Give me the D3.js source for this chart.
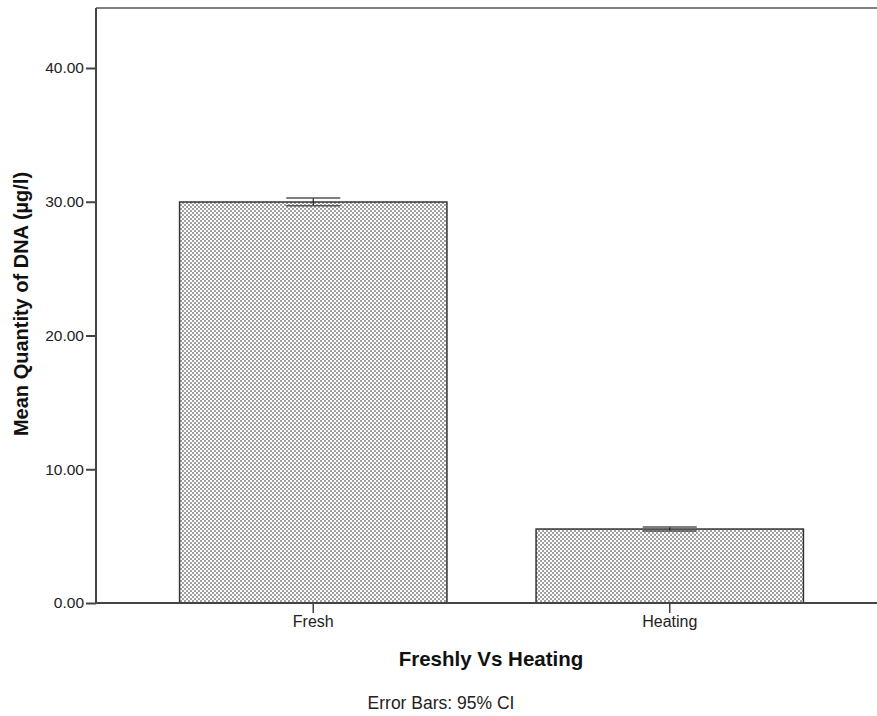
<!DOCTYPE html>
<html>
<head>
<meta charset="utf-8">
<script src="https://cdn.jsdelivr.net/npm/d3@7"></script>
<style>
body { margin: 0; background: #fff; }
text { font-family: "Liberation Sans", Arial, sans-serif; }
</style>
</head>
<body>
<script>
// data
var groups = ["Fresh", "Heating"];
var means = [29.98, 5.53];
var ciLow = [29.70, 5.38];
var ciHigh = [30.28, 5.68];
var yTicks = [0, 10, 20, 30, 40];

var W = 877, H = 716;
var mLeft = 96, mTop = 8, mBottom = 603;

var svg = d3.select("body").append("svg")
	.attr("width", W)
	.attr("height", H);

// dotted fill like the original
var pat = svg.append("defs").append("pattern")
	.attr("id", "dots")
	.attr("width", 4).attr("height", 4)
	.attr("patternUnits", "userSpaceOnUse");
pat.append("rect").attr("width", 4).attr("height", 4).attr("fill", "#fff");
pat.append("rect").attr("x", 0).attr("y", 0).attr("width", 2).attr("height", 2).attr("fill", "#a0a0a0");
pat.append("rect").attr("x", 2).attr("y", 2).attr("width", 2).attr("height", 2).attr("fill", "#a0a0a0");

var y = d3.scaleLinear().domain([0, 40]).range([mBottom, 68]);
var x = d3.scaleBand().domain(groups)
	.range([135, 848])
	.paddingInner(0.25)
	.paddingOuter(0.125);

// top frame line
svg.append("line").attr("x1", mLeft).attr("x2", W).attr("y1", mTop).attr("y2", mTop)
	.attr("stroke", "#808080").attr("stroke-width", 2);

// bars
svg.selectAll("rect.bar")
	.data(groups).enter()
	.append("rect")
	.attr("class", "bar")
	.attr("x", function(d) { return x(d); })
	.attr("width", x.bandwidth())
	.attr("y", function(d, i) { return y(means[i]); })
	.attr("height", function(d, i) { return mBottom - y(means[i]); })
	.attr("fill", "url(#dots)")
	.attr("stroke", "#333")
	.attr("stroke-width", 1.5);

// error bars
var capW = 27;
var eb = svg.selectAll("g.err").data(groups).enter().append("g").attr("class", "err");
eb.append("line")
	.attr("x1", function(d) { return x(d) + x.bandwidth() / 2; })
	.attr("x2", function(d) { return x(d) + x.bandwidth() / 2; })
	.attr("y1", function(d, i) { return y(ciLow[i]); })
	.attr("y2", function(d, i) { return y(ciHigh[i]); })
	.attr("stroke", "#222").attr("stroke-width", 1.2);
eb.append("line")
	.attr("x1", function(d) { return x(d) + x.bandwidth() / 2 - capW; })
	.attr("x2", function(d) { return x(d) + x.bandwidth() / 2 + capW; })
	.attr("y1", function(d, i) { return y(ciHigh[i]); })
	.attr("y2", function(d, i) { return y(ciHigh[i]); })
	.attr("stroke", "#555").attr("stroke-width", 1.5);
eb.append("line")
	.attr("x1", function(d) { return x(d) + x.bandwidth() / 2 - capW; })
	.attr("x2", function(d) { return x(d) + x.bandwidth() / 2 + capW; })
	.attr("y1", function(d, i) { return y(ciLow[i]); })
	.attr("y2", function(d, i) { return y(ciLow[i]); })
	.attr("stroke", "#555").attr("stroke-width", 1.5);

// y axis
var yAxis = svg.append("g")
	.attr("transform", "translate(" + mLeft + ",0)")
	.call(d3.axisLeft(y).tickValues(yTicks).tickFormat(d3.format(".2f")).tickSize(10).tickSizeOuter(0));
yAxis.select(".domain").remove();
yAxis.append("line").attr("x1", 0).attr("x2", 0).attr("y1", mTop).attr("y2", mBottom)
	.attr("stroke", "#444").attr("stroke-width", 2);
yAxis.selectAll(".tick line").attr("stroke", "#444").attr("stroke-width", 2);
yAxis.selectAll(".tick text")
	.attr("x", -12)
	.style("font-family", "'Liberation Sans', Arial, sans-serif")
	.style("font-size", "15.5px").attr("fill", "#222");

// x axis
var xAxis = svg.append("g")
	.attr("transform", "translate(0," + mBottom + ")")
	.call(d3.axisBottom(x).tickSize(10).tickSizeOuter(0));
xAxis.select(".domain").remove();
xAxis.append("line").attr("x1", mLeft).attr("x2", W).attr("y1", 0).attr("y2", 0)
	.attr("stroke", "#444").attr("stroke-width", 2);
xAxis.selectAll(".tick line").attr("stroke", "#444").attr("stroke-width", 1.5);
xAxis.selectAll(".tick text")
	.attr("y", 13)
	.style("font-family", "'Liberation Sans', Arial, sans-serif")
	.style("font-size", "16px").attr("fill", "#222");

// titles
svg.append("text")
	.attr("transform", "translate(28,304) rotate(-90)")
	.attr("text-anchor", "middle")
	.style("font-size", "20px").style("font-weight", "bold")
	.attr("fill", "#111")
	.text("Mean Quantity of DNA (µg/l)");

svg.append("text")
	.attr("x", 491).attr("y", 666)
	.attr("text-anchor", "middle")
	.style("font-size", "20.5px").style("font-weight", "bold")
	.attr("fill", "#111")
	.text("Freshly Vs Heating");

svg.append("text")
	.attr("x", 441).attr("y", 709)
	.attr("text-anchor", "middle")
	.style("font-size", "17.5px")
	.attr("fill", "#222")
	.text("Error Bars: 95% CI");
</script>
</body>
</html>
